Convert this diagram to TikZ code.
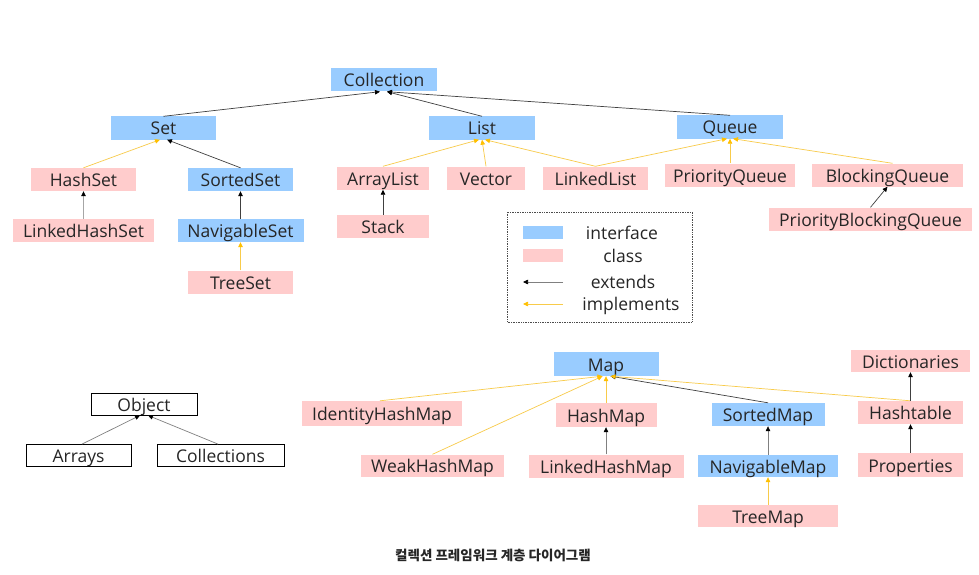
\documentclass[tikz,border=0pt]{standalone}
\usepackage{fontspec}
\setmainfont{Open Sans}
\newfontfamily\krfont{Noto Sans CJK KR}
\usetikzlibrary{arrows.meta}
\definecolor{ifblue}{HTML}{99CCFF}
\definecolor{clpink}{HTML}{FFCCCC}
\definecolor{implcol}{HTML}{FFC000}
\definecolor{impline}{HTML}{F8CB4A}
\definecolor{extcol}{HTML}{404040}
\begin{document}
\begin{tikzpicture}[x=1pt,y=-1pt,
 box/.style={inner sep=0pt, minimum height=23pt, text height=14pt, text depth=0pt, font=\fontsize{17.5}{19}\selectfont, text=black!85},
 iface/.style={box, fill=ifblue},
 cls/.style={box, fill=clpink},
 obj/.style={box, draw=black, line width=0.8pt, fill=white, minimum height=22pt},
 ext/.style={draw=extcol, line width=0.7pt, -{Triangle[length=5pt,width=4.5pt,black]}},
 impl/.style={draw=impline, line width=0.7pt, -{Triangle[length=5pt,width=4.5pt,implcol]}},
 legtext/.style={inner sep=0pt, text height=14pt, text depth=0pt, font=\fontsize{17.5}{19}\selectfont, text=black!85},
 swatch/.style={inner sep=0pt, minimum width=40pt, minimum height=13pt},
]
\useasboundingbox[fill=white] (0,0) rectangle (979,575);

% Collection hierarchy
\node[iface, minimum width=106pt] (coll) at (384,80) {Collection};
\node[iface, minimum width=105pt] (set) at (163.5,128) {Set};
\node[iface, minimum width=106pt] (list) at (482,128) {List};
\node[iface, minimum width=106pt] (queue) at (730,127) {Queue};
\node[cls, minimum width=105pt] (hashset) at (83.5,179.5) {HashSet};
\node[iface, minimum width=105pt] (sortedset) at (240.5,179.5) {SortedSet};
\node[cls, minimum width=141pt] (lhs) at (83.5,230.5) {LinkedHashSet};
\node[iface, minimum width=126pt] (navset) at (240.5,230.5) {NavigableSet};
\node[cls, minimum width=105pt] (treeset) at (240.5,282) {TreeSet};
\node[cls, minimum width=92pt] (arraylist) at (383,178) {ArrayList};
\node[cls, minimum width=78pt] (vector) at (486,178) {Vector};
\node[cls, minimum width=105pt] (linkedlist) at (595.5,178) {LinkedList};
\node[cls, minimum width=92pt] (stack) at (383,226.5) {Stack};
\node[cls, minimum width=130pt] (pq) at (730,175) {PriorityQueue};
\node[cls, minimum width=151pt] (bq) at (887.5,175) {BlockingQueue};
\node[cls, minimum width=203pt] (pbq) at (870.5,219) {PriorityBlockingQueue};

% Map hierarchy
\node[iface, minimum width=105pt, minimum height=24pt] (map) at (606,364) {Map};
\node[cls, minimum width=160pt, minimum height=25pt] (ihm) at (382,413.5) {IdentityHashMap};
\node[cls, minimum width=101pt, minimum height=24pt] (hashmap) at (606,415) {HashMap};
\node[cls, minimum width=143pt, minimum height=22pt] (whm) at (432.5,465.5) {WeakHashMap};
\node[cls, minimum width=155pt] (lhm) at (606,466) {LinkedHashMap};
\node[iface, minimum width=113pt] (sortedmap) at (768,414.5) {SortedMap};
\node[iface, minimum width=140pt, minimum height=22pt] (navmap) at (768,466) {NavigableMap};
\node[cls, minimum width=140pt, minimum height=22pt] (treemap) at (768,516) {TreeMap};
\node[cls, minimum width=119pt, minimum height=22pt] (dict) at (910.5,361) {Dictionaries};
\node[cls, minimum width=105pt] (hashtable) at (910.5,412.5) {Hashtable};
\node[cls, minimum width=105pt, minimum height=24pt] (props) at (910.5,465) {Properties};

% Object
\node[obj, minimum width=106pt] (object) at (144,404) {Object};
\node[obj, minimum width=105pt] (arrays) at (78.5,455.5) {Arrays};
\node[obj, minimum width=127pt] (collections) at (220.5,455.5) {Collections};

% Collection connectors
\draw[ext] (set.north) -- ([xshift=-4pt]coll.south);
\draw[ext] (list.north) -- ([xshift=3pt]coll.south);
\draw[ext] (queue.north) -- ([xshift=3pt]coll.south);
\draw[impl] (hashset.north) -- ([xshift=-3.5pt]set.south);
\draw[ext] (sortedset.north) -- ([xshift=3.5pt]set.south);
\draw[ext, draw=gray!70] (lhs.north) -- (hashset.south);
\draw[ext] (navset.north) -- (sortedset.south);
\draw[impl] (treeset.north) -- (navset.south);
\draw[impl] (arraylist.north) -- ([xshift=-3pt]list.south);
\draw[impl] (vector.north) -- (list.south);
\draw[impl] (linkedlist.north) -- ([xshift=3pt]list.south);
\draw[impl] (linkedlist.north) -- ([xshift=-3pt]queue.south);
\draw[impl] (pq.north) -- (queue.south);
\draw[impl] ([xshift=5pt]bq.north) -- ([xshift=3pt]queue.south);
\draw[ext] (pbq.north) -- (bq.south);
\draw[ext] (stack.north) -- (arraylist.south);

% Map connectors
\draw[impl] ([xshift=-2pt]ihm.north) -- ([xshift=-3.5pt]map.south);
\draw[impl] (whm.north) -- ([xshift=-3.5pt]map.south);
\draw[impl] (hashmap.north) -- (map.south);
\draw[ext] (sortedmap.north) -- ([xshift=4.5pt]map.south);
\draw[impl] (hashtable.north) -- ([xshift=4.5pt]map.south);
\draw[ext] (hashtable.north) -- (dict.south);
\draw[ext] (props.north) -- (hashtable.south);
\draw[ext, draw=gray] (lhm.north) -- (hashmap.south);
\draw[ext, draw=gray] (navmap.north) -- (sortedmap.south);
\draw[impl] (treemap.north) -- (navmap.south);

% Object connectors
\draw[ext, draw=gray] ([xshift=3.5pt]arrays.north) -- ([xshift=-4pt]object.south);
\draw[ext, draw=gray] ([xshift=-2.5pt]collections.north) -- ([xshift=4pt]object.south);

% Legend
\draw[densely dotted, line width=0.7pt, black!70] (507,212) rectangle (692,322);
\node[swatch, fill=ifblue] (swif) at (543,232.5) {};
\node[swatch, fill=clpink] (swcl) at (543,255.5) {};
\coordinate (exa) at (563,282);
\coordinate (exb) at (523,282);
\draw[ext, draw=gray] (exa) -- (exb);
\coordinate (ima) at (563,304);
\coordinate (imb) at (523,304);
\draw[impl] (ima) -- (imb);
\node[legtext] (lif) at (622,232) {interface};
\node[legtext] (lcl) at (623,255) {class};
\node[legtext] (lex) at (623,281) {extends};
\node[legtext] (lim) at (631,303) {implements};

% Caption
\node[inner sep=0pt, font=\krfont\bfseries\fontsize{13.5}{15}\selectfont, text=black!85] (cap) at (493,555) {컬렉션 프레임워크 계층 다이어그램};
\end{tikzpicture}
\end{document}
